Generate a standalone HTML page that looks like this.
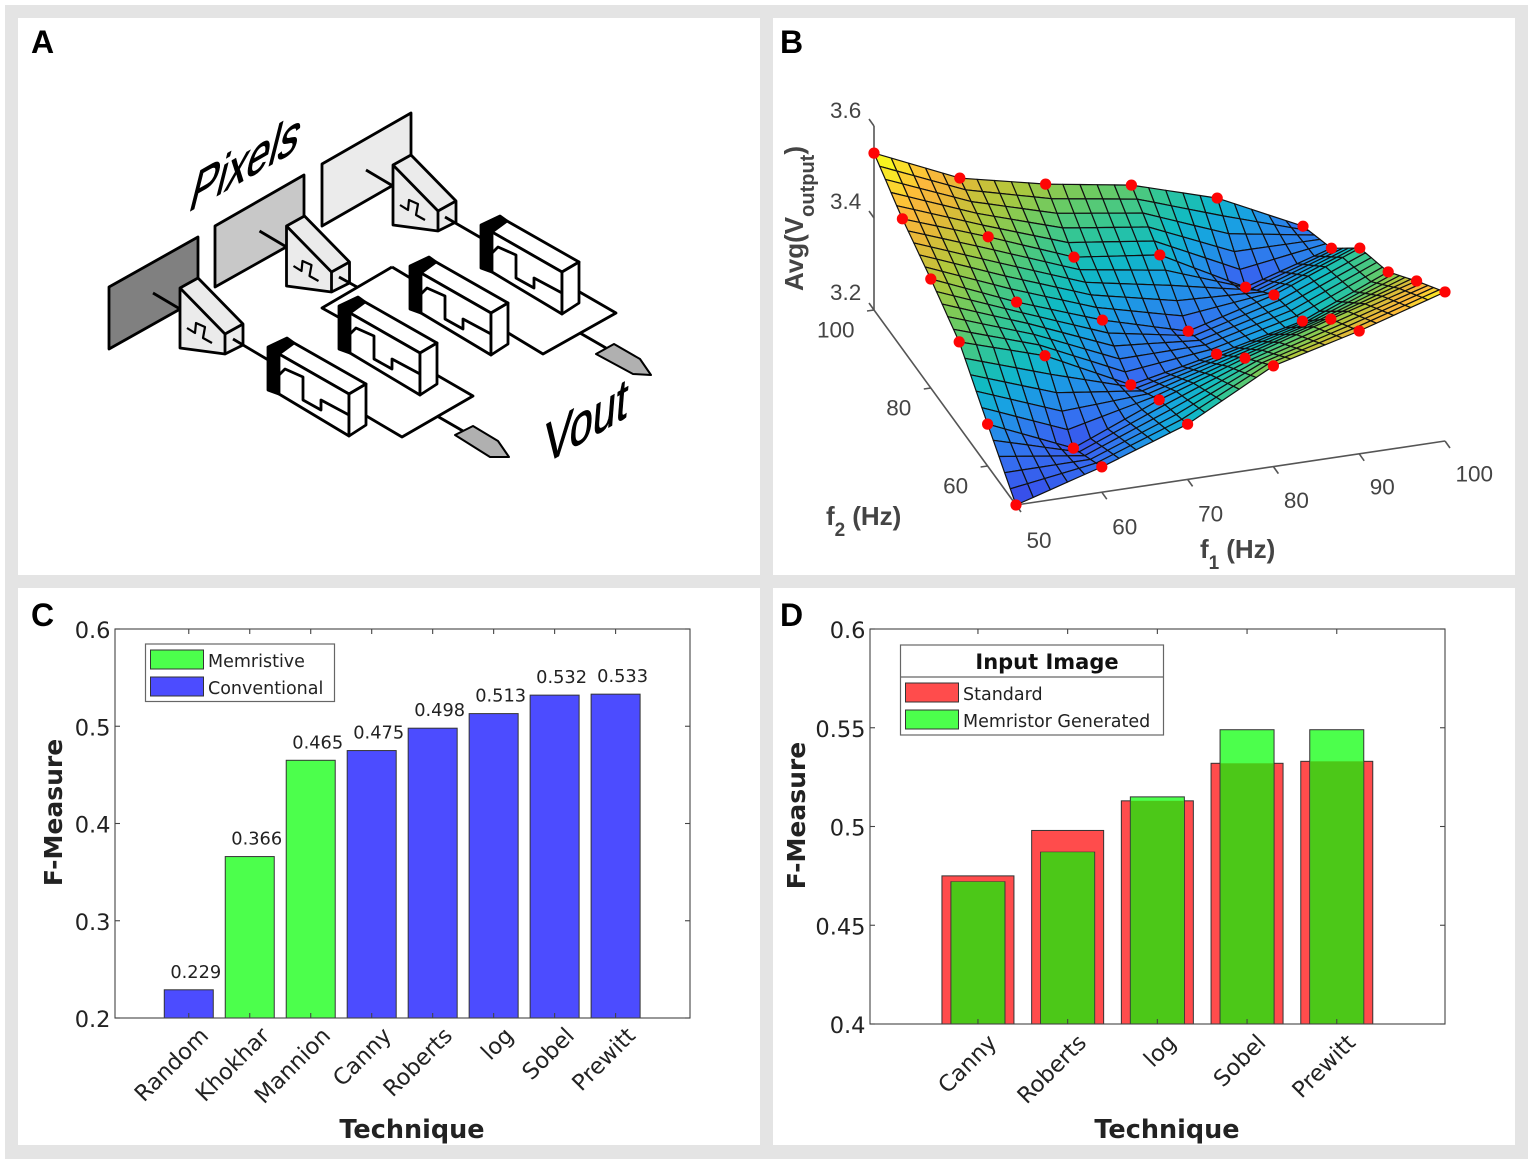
<!DOCTYPE html>
<html lang="en">
<head>
<meta charset="utf-8">
<title>Memristive edge detection figure</title>
<style>
html,body{margin:0;padding:0;background:#fff;}
body{width:1535px;height:1164px;overflow:hidden;}
svg{display:block;filter:blur(0.35px);}
.dv{font-family:"DejaVu Sans","Liberation Sans",sans-serif;}
.ls{font-family:"Liberation Sans",sans-serif;}
</style>
</head>
<body>
<svg id="fig" xmlns="http://www.w3.org/2000/svg" width="1535" height="1164" viewBox="0 0 1535 1164">
  <rect x="5" y="5" width="1523" height="1154" fill="#e4e4e4"/>
  <rect x="18" y="18" width="742" height="557" fill="#fff"/>
  <rect x="773" y="18" width="742" height="557" fill="#fff"/>
  <rect x="18" y="588" width="742" height="557" fill="#fff"/>
  <rect x="773" y="588" width="742" height="557" fill="#fff"/>
  <g class="ls" font-weight="bold" font-size="32" fill="#000">
    <text x="31" y="53">A</text>
    <text x="780" y="53">B</text>
    <text x="31" y="626">C</text>
    <text x="780" y="626">D</text>
  </g>

  <g id="panelA" stroke="#000" stroke-width="2.8" stroke-linejoin="round" fill="none">
    <defs>
      <g id="pixelCell">
        <polygon points="180,288 198,278 243,324 243,345 225,354 180,348" fill="#ebebeb"/>
        <polyline points="180,288 225,334 243,324"/>
        <line x1="225" y1="334" x2="225" y2="354"/>
        <polyline points="187,328 195,333 196,323 205,327 203,338 212,343" stroke-width="2.2"/>
        <line x1="153" y1="293" x2="180" y2="309"/>
      </g>
      <g id="memristorCell">
        <polygon points="268,347 287,338 294,343 279,354 279,394 268,390" fill="#000"/>
        <polygon points="294,343 366,384 349,394 279,354" fill="#fff"/>
        <polygon points="279,354 349,394 349,436 279,394" fill="#fff"/>
        <polygon points="349,394 366,384 366,425 349,436" fill="#fff"/>
        <polyline points="279,375 285,369 303,377 303,400 321,410 321,400 349,415"/>
      </g>
    </defs>
    <polygon points="109,287 198,237 198,299 109,349" fill="#808080"/>
    <polygon points="215,226 304,175 304,237 215,287" fill="#c8c8c8"/>
    <polygon points="322,164 411,113 411,175 322,226" fill="#ebebeb"/>
    <use href="#pixelCell"/>
    <use href="#pixelCell" x="106.5" y="-62"/>
    <use href="#pixelCell" x="213" y="-123"/>
    <polyline points="392,267 322,308 340,318"/>
    <line x1="392" y1="267" x2="412" y2="279"/>
    <polyline points="358,411 402,437 473,396 428,370"/>
    <polyline points="500,328 543,354 616,313 571,287"/>
    <line x1="233" y1="339" x2="270" y2="361"/>
    <line x1="339" y1="277" x2="357" y2="287"/>
    <line x1="445" y1="217" x2="483" y2="239"/>
    <line x1="437" y1="416" x2="463" y2="431"/>
    <line x1="580" y1="333" x2="606" y2="348"/>
    <use href="#memristorCell"/>
    <use href="#memristorCell" x="71" y="-41"/>
    <use href="#memristorCell" x="142" y="-81"/>
    <use href="#memristorCell" x="213" y="-122"/>
    <polygon points="455,435 473,426 498,441 509,457 490,457" fill="#b0b0b0" stroke-width="2"/>
    <polygon points="596,354 614,344 640,359 651,375 633,374" fill="#b0b0b0" stroke-width="2"/>
    <text class="ls" font-size="59" fill="#000" stroke="#000" stroke-width="0.9" transform="matrix(0.69 -0.395 -0.25 1 187 213)">Pixels</text>
    <text class="ls" font-size="59" fill="#000" stroke="#000" stroke-width="0.9" transform="matrix(0.705 -0.405 -0.08 1 543 465)">Vout</text>
  </g>
  <g id="panelB"></g>
  <g id="panelC"></g>
  <g id="panelD"></g>
</svg>
<script>
// Panel B data: average output voltage at each (f1, f2)
const f1Values = [50, 60, 70, 80, 90, 100];
const f2Values = [100, 90, 80, 70, 60, 50];
const voltageF2at100 = [3.541, 3.459, 3.418, 3.388, 3.332, 3.243];
const voltageF2at90 = [3.483, 3.416, 3.344, 3.321, 3.223, 3.280];
const voltageF2at80 = [3.437, 3.359, 3.292, 3.240, 3.291, 3.365];
const voltageF2at70 = [3.385, 3.327, 3.236, 3.275, 3.319, 3.398];
const voltageF2at60 = [3.291, 3.211, 3.288, 3.351, 3.408, 3.463];
const voltageF2at50 = [3.200, 3.255, 3.320, 3.419, 3.467, 3.524];
const zTickLabels = ["3.2", "3.4", "3.6"];
const f2TickLabels = ["100", "80", "60"];
const f1TickLabels = ["50", "60", "70", "80", "90", "100"];

// Panel C data
const techniqueCategories = ["Random", "Khokhar", "Mannion", "Canny", "Roberts", "log", "Sobel", "Prewitt"];
const techniqueScores = [0.229, 0.366, 0.465, 0.475, 0.498, 0.513, 0.532, 0.533];
const techniqueGroups = ["conventional", "memristive", "memristive", "conventional", "conventional", "conventional", "conventional", "conventional"];
const panelCTicks = [0.2, 0.3, 0.4, 0.5, 0.6];

// Panel D data
const inputCategories = ["Canny", "Roberts", "log", "Sobel", "Prewitt"];
const standardScores = [0.475, 0.498, 0.513, 0.532, 0.533];
const memristorScores = [0.472, 0.487, 0.515, 0.549, 0.549];
const panelDTicks = [0.4, 0.45, 0.5, 0.55, 0.6];
const panelDTickLabels = ["0.4", "0.45", "0.5", "0.55", "0.6"];

const NS = "http://www.w3.org/2000/svg";
function make(parent, tag, attrs, text) {
  const el = document.createElementNS(NS, tag);
  for (const k in attrs) el.setAttribute(k, attrs[k]);
  if (text !== undefined) el.textContent = text;
  parent.appendChild(el);
  return el;
}

/* ---------- Panel B ---------- */
(function () {
  const g = document.getElementById("panelB");
  const grid = [voltageF2at100, voltageF2at90, voltageF2at80, voltageF2at70, voltageF2at60, voltageF2at50];
  function project(f1, f2, z) {
    const a = (f1 - 50) / 10, b = (100 - f2) / 10;
    return [874 + 85.8 * a + 28.4 * b, 310 - 12.8 * a + 39 * b - (z - 3.2) * 460];
  }
  const stops = [[0, 58, 68, 232], [0.15, 52, 112, 240], [0.3, 24, 162, 226], [0.4, 16, 186, 196], [0.5, 50, 198, 150], [0.6, 108, 203, 98], [0.7, 176, 200, 60], [0.8, 232, 184, 56], [0.88, 253, 184, 60], [1, 248, 245, 32]];
  function colour(z) {
    const t = Math.max(0, Math.min(1, (z - 3.2) / 0.325));
    for (let i = 1; i < stops.length; i++) {
      if (t <= stops[i][0]) {
        const a = stops[i - 1], b = stops[i], u = (t - a[0]) / (b[0] - a[0]);
        return "rgb(" + [1, 2, 3].map(function (c) { return Math.round(a[c] + (b[c] - a[c]) * u); }).join(",") + ")";
      }
    }
    return "rgb(248,245,32)";
  }
  function voltage(a, b) {
    const i = Math.min(4, Math.floor(a)), j = Math.min(4, Math.floor(b));
    const u = a - i, v = b - j;
    return (grid[j][i] * (1 - u) + grid[j][i + 1] * u) * (1 - v) + (grid[j + 1][i] * (1 - u) + grid[j + 1][i + 1] * u) * v;
  }
  // axes
  const axisStyle = { stroke: "#555", "stroke-width": 1.6, fill: "none" };
  const o = project(50, 100, 3.2), top = project(50, 100, 3.6), c = project(50, 50, 3.2), e = project(100, 50, 3.2);
  const zAxis = make(g, "line", Object.assign({ x1: o[0], y1: o[1], x2: top[0], y2: top[1] }, axisStyle));
  
  
  const f2Axis = make(g, "line", Object.assign({ x1: o[0], y1: o[1], x2: c[0], y2: c[1] }, axisStyle));
  
  
  const f1Axis = make(g, "line", Object.assign({ x1: c[0], y1: c[1], x2: e[0], y2: e[1] }, axisStyle));
  
  

  const labelStyle = { "font-size": "22.5", fill: "#444", class: "ls" };
  zTickLabels.forEach(function (lab, idx) {
    const p = project(50, 100, parseFloat(lab));
    const t = make(g, "line", Object.assign({ x1: p[0], y1: p[1], x2: p[0] - 5, y2: p[1] - 7 }, axisStyle));
    
    
    const l = make(g, "text", Object.assign({ x: p[0] - 44, y: p[1] - 10 + idx * 0.9 }, labelStyle), lab);
    
    
  });
  f2TickLabels.forEach(function (lab) {
    const p = project(50, parseFloat(lab), 3.2);
    const t = make(g, "line", Object.assign({ x1: p[0], y1: p[1], x2: p[0] - 7, y2: p[1] + 1 }, axisStyle));
    
    
    const l = make(g, "text", Object.assign({ x: p[0] - 19.5, y: p[1] + 27.5, "text-anchor": "end" }, labelStyle), lab);
    
    
  });
  f1TickLabels.forEach(function (lab, idx) {
    const p = project(parseFloat(lab), 50, 3.2);
    const t = make(g, "line", Object.assign({ x1: p[0], y1: p[1], x2: p[0] + 5, y2: p[1] + 7 }, axisStyle));
    
    
    const l = make(g, "text", Object.assign({ x: p[0] + 10.5, y: p[1] + 43 - idx * 0.55 }, labelStyle), lab);
    
    
  });

  // surface mesh (painted from far corner to near corner)
  const N = 5, mesh = make(g, "g", { stroke: "#111", "stroke-width": 1.2, "stroke-linejoin": "round" });
  
  
  function pt(a, b) {
    return project(f1Values[0] + a * 10, f2Values[0] - b * 10, voltage(a, b));
  }
  for (let jj = 0; jj < 5 * N; jj++) {
    for (let ii = 5 * N - 1; ii >= 0; ii--) {
      const a0 = ii / N, a1 = (ii + 1) / N, b0 = jj / N, b1 = (jj + 1) / N;
      const pts = [pt(a0, b0), pt(a1, b0), pt(a1, b1), pt(a0, b1)].map(function (p) { return p[0].toFixed(1) + "," + p[1].toFixed(1); }).join(" ");
      make(mesh, "polygon", { points: pts, fill: colour(voltage((a0 + a1) / 2, (b0 + b1) / 2)) });
    }
  }
  // measured points
  grid.forEach(function (row, j) {
    row.forEach(function (z, i) {
      const p = project(f1Values[i], f2Values[j], z);
      const d = make(g, "circle", { cx: p[0], cy: p[1], r: 5.6, fill: "#fe0505" });
      
      
    });
  });
  // axis titles
  const at = make(g, "text", { class: "ls", transform: "translate(803 291) rotate(-90)", "font-size": "26", "font-weight": "bold", fill: "#444" });
  
  
  make(at, "tspan", {}, "Avg(V");
  make(at, "tspan", { dy: 11, "font-size": "20" }, "output");
  make(at, "tspan", { dy: -11 }, ")");
  const f2t = make(g, "text", { class: "ls", x: 826, y: 525, "font-size": "26", "font-weight": "bold", fill: "#444" });
  
  
  make(f2t, "tspan", {}, "f");
  make(f2t, "tspan", { dy: 11, "font-size": "19" }, "2");
  make(f2t, "tspan", { dy: -11, dx: 7 }, "(Hz)");
  const f1t = make(g, "text", { class: "ls", x: 1200, y: 558, "font-size": "26", "font-weight": "bold", fill: "#444" });
  
  
  make(f1t, "tspan", {}, "f");
  make(f1t, "tspan", { dy: 11, "font-size": "19" }, "1");
  make(f1t, "tspan", { dy: -11, dx: 7 }, "(Hz)");
})();

/* ---------- Shared bar-chart frame ---------- */
function frame(g, box, ticks, tickLabels, yOf, xOf, cats, labelDx, labelDy, titleDx) {
  const dark = { stroke: "#444", "stroke-width": 1.1, fill: "none" };
  const b = make(g, "rect", Object.assign({ x: box.left, y: box.top, width: box.right - box.left, height: box.bottom - box.top }, dark));
  
  
  ticks.forEach(function (v, i) {
    const y = yOf(v);
    const t1 = make(g, "line", Object.assign({ x1: box.left, y1: y, x2: box.left + 5, y2: y }, dark));
    
    
    const t2 = make(g, "line", Object.assign({ x1: box.right - 5, y1: y, x2: box.right, y2: y }, dark));
    
    
    const l = make(g, "text", { class: "dv", x: box.left - 4.5, y: y + 9, "text-anchor": "end", "font-size": "22.5", fill: "#222" }, tickLabels[i]);
    
    
  });
  cats.forEach(function (c, i) {
    const x = xOf(i);
    const t1 = make(g, "line", Object.assign({ x1: x, y1: box.bottom - 5, x2: x, y2: box.bottom }, dark));
    
    
    const t2 = make(g, "line", Object.assign({ x1: x, y1: box.top, x2: x, y2: box.top + 5 }, dark));
    
    
    const px = x + labelDx, py = box.bottom + labelDy;
    const l = make(g, "text", { class: "dv", x: px, y: py, "text-anchor": "end", "font-size": "22.5", fill: "#222", transform: "rotate(-45 " + px + " " + py + ")" }, c);
    
    
  });
  const cx = (box.left + box.right) / 2 + 9.5;
  const xt = make(g, "text", { class: "dv", x: cx, y: 1138, "text-anchor": "middle", "font-size": "25.5", "font-weight": "bold", fill: "#222" }, "Technique");
  
  
  const yx = box.left - titleDx, yy = (box.top + box.bottom) / 2 - 11;
  const yt = make(g, "text", { class: "dv", x: yx, y: yy, "text-anchor": "middle", "font-size": "25", "font-weight": "bold", fill: "#222", transform: "rotate(-90 " + yx + " " + yy + ")" }, "F-Measure");
  
  
}

/* ---------- Panel C ---------- */
(function () {
  const g = document.getElementById("panelC");
  const box = { left: 115, right: 690, top: 629, bottom: 1018 };
  const yOf = function (v) { return box.bottom - (v - 0.2) / 0.4 * (box.bottom - box.top); };
  const xOf = function (i) { return box.left + 0.6 + (i + 1.2) / 9.43 * (box.right - box.left); };
  const fills = { memristive: "#4cff4c", conventional: "#4c4cff" };
  techniqueScores.forEach(function (v, i) {
    const b = make(g, "rect", { x: xOf(i) - 24.5, y: yOf(v), width: 49, height: box.bottom - yOf(v), fill: fills[techniqueGroups[i]], stroke: "#333", "stroke-width": 1 });
    
    
    const l = make(g, "text", { class: "dv", x: xOf(i) + 7, y: yOf(v) - 12, "text-anchor": "middle", "font-size": "17.8", fill: "#222" }, v.toFixed(3));
    
    
  });
  frame(g, box, panelCTicks, panelCTicks.map(function (t) { return t.toFixed(1); }), yOf, xOf, techniqueCategories, 21, 19, 53);
  const lg = make(g, "g", {});
  
  
  make(lg, "rect", { x: 145.5, y: 644, width: 189, height: 57.5, fill: "#fff", stroke: "#666", "stroke-width": 1.2 });
  make(lg, "rect", { x: 150.5, y: 650, width: 53, height: 19, fill: "#4cff4c", stroke: "#333", "stroke-width": 1 });
  make(lg, "rect", { x: 150.5, y: 677, width: 53, height: 19, fill: "#4c4cff", stroke: "#333", "stroke-width": 1 });
  make(lg, "text", { class: "dv", x: 208, y: 667, "font-size": "17.5", fill: "#222" }, "Memristive");
  make(lg, "text", { class: "dv", x: 208, y: 694, "font-size": "17.5", fill: "#222" }, "Conventional");
})();

/* ---------- Panel D ---------- */
(function () {
  const g = document.getElementById("panelD");
  const box = { left: 870, right: 1445, top: 629, bottom: 1024 };
  const yOf = function (v) { return box.bottom - (v - 0.4) / 0.2 * (box.bottom - box.top); };
  const xOf = function (i) { return box.left + 0.3 + (i + 1.2) / 6.41 * (box.right - box.left); };
  standardScores.forEach(function (v, i) {
    const b = make(g, "rect", { x: xOf(i) - 36, y: yOf(v), width: 72, height: box.bottom - yOf(v), fill: "#ff4c4c", stroke: "#333", "stroke-width": 1 });
    
    
  });
  memristorScores.forEach(function (v, i) {
    const y = yOf(v), yr = yOf(standardScores[i]);
    const b = make(g, "rect", { x: xOf(i) - 27, y: y, width: 54, height: box.bottom - y, fill: "#4cff4c", stroke: "#333", "stroke-width": 1 });
    
    
    const oy = Math.max(y, yr);
    const ov = make(g, "rect", { x: xOf(i) - 26.5, y: oy, width: 53, height: box.bottom - oy, fill: "#4cc818" });
    
    
  });
  frame(g, box, panelDTicks, panelDTickLabels, yOf, xOf, inputCategories, 20, 20, 65);
  const lg = make(g, "g", {});
  
  
  make(lg, "rect", { x: 900.5, y: 645, width: 263, height: 90, fill: "#fff", stroke: "#666", "stroke-width": 1.2 });
  make(lg, "line", { x1: 900.5, y1: 677, x2: 1163.5, y2: 677, stroke: "#666", "stroke-width": 1.2 });
  make(lg, "text", { class: "dv", x: 1047, y: 669, "text-anchor": "middle", "font-size": "21", "font-weight": "bold", fill: "#111" }, "Input Image");
  make(lg, "rect", { x: 905.5, y: 683, width: 53, height: 19, fill: "#ff4c4c", stroke: "#333", "stroke-width": 1 });
  make(lg, "rect", { x: 905.5, y: 710, width: 53, height: 19, fill: "#4cff4c", stroke: "#333", "stroke-width": 1 });
  make(lg, "text", { class: "dv", x: 963, y: 700, "font-size": "17.5", fill: "#222" }, "Standard");
  make(lg, "text", { class: "dv", x: 963, y: 727, "font-size": "17.5", fill: "#222" }, "Memristor Generated");
})();
</script>
</body>
</html>
